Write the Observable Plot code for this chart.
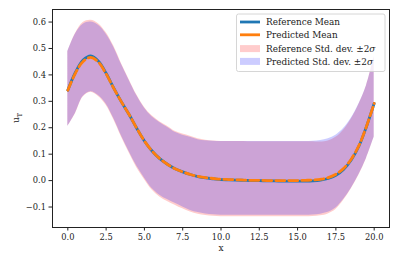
<!DOCTYPE html>
<html>
<head>
<meta charset="utf-8">
<script src="https://cdn.jsdelivr.net/npm/d3@7"></script>
<script src="https://cdn.jsdelivr.net/npm/@observablehq/plot@0.6"></script>
<style>
html,body{margin:0;padding:0;background:#fff;}
</style>
</head>
<body>
<div id="chart"></div>
<script>
const xs = [0,0.5,1,1.5,2,2.5,3,3.5,4,4.5,5,5.5,6,6.5,7,7.5,8,8.5,9,9.5,10,10.5,11,11.5,12,12.5,13,13.5,14,14.5,15,15.5,16,16.5,17,17.5,18,18.5,19,19.5,20];
const refMean = [0.342,0.41,0.456,0.472,0.452,0.406,0.35,0.298,0.25,0.198,0.15,0.112,0.083,0.062,0.045,0.033,0.023,0.015,0.010,0.007,0.004,0.003,0.002,0.001,0.0,0.0,-0.001,-0.001,-0.002,-0.002,-0.002,-0.002,-0.001,0.002,0.008,0.02,0.042,0.078,0.13,0.205,0.292];
const predMean = [0.342,0.407,0.451,0.466,0.448,0.404,0.349,0.298,0.25,0.198,0.15,0.112,0.083,0.062,0.045,0.033,0.023,0.016,0.011,0.008,0.005,0.004,0.003,0.002,0.001,0.001,0.0,0.0,0.0,0.0,0.0,0.001,0.002,0.005,0.011,0.024,0.046,0.081,0.132,0.206,0.292];
const predUpper = [0.488,0.555,0.592,0.600,0.588,0.555,0.505,0.44,0.38,0.322,0.275,0.242,0.22,0.202,0.183,0.172,0.164,0.155,0.151,0.149,0.148,0.148,0.148,0.148,0.148,0.148,0.148,0.148,0.148,0.148,0.148,0.148,0.149,0.152,0.158,0.172,0.197,0.236,0.29,0.36,0.47];
const refUpper = [0.488,0.557,0.598,0.607,0.594,0.560,0.509,0.443,0.383,0.325,0.278,0.245,0.223,0.206,0.187,0.176,0.168,0.158,0.153,0.150,0.148,0.148,0.148,0.148,0.147,0.147,0.147,0.147,0.147,0.147,0.147,0.147,0.147,0.146,0.150,0.164,0.191,0.232,0.288,0.36,0.47];
const predLower = [0.205,0.255,0.318,0.336,0.322,0.29,0.235,0.17,0.11,0.055,0.01,-0.03,-0.055,-0.072,-0.086,-0.1,-0.113,-0.121,-0.126,-0.129,-0.131,-0.131,-0.131,-0.131,-0.131,-0.131,-0.131,-0.131,-0.131,-0.131,-0.131,-0.131,-0.13,-0.127,-0.12,-0.104,-0.072,-0.03,0.022,0.085,0.165];
const refLower = [0.205,0.253,0.316,0.334,0.318,0.285,0.23,0.165,0.105,0.049,0.004,-0.036,-0.062,-0.079,-0.093,-0.107,-0.119,-0.127,-0.132,-0.135,-0.137,-0.137,-0.137,-0.137,-0.137,-0.137,-0.137,-0.137,-0.137,-0.137,-0.137,-0.137,-0.136,-0.133,-0.126,-0.109,-0.075,-0.032,0.02,0.084,0.165];
const xTicks = [0,2.5,5,7.5,10,12.5,15,17.5,20];
const yTicks = [-0.1,0,0.1,0.2,0.3,0.4,0.5,0.6];
const legendLabels = ["Reference Mean","Predicted Mean","Reference Std. dev. \u00b12","Predicted Std. dev. \u00b12"];

const rows = xs.map((x,i)=>({x, refMean:refMean[i], predMean:predMean[i], refLo:refLower[i], refHi:refUpper[i], predLo:predLower[i], predHi:predUpper[i]}));
const fmtY = d => (d<0?"\u2212":"") + Math.abs(d).toFixed(1);
const curve = "catmull-rom";

const plot = Plot.plot({
  width: 399,
  height: 266,
  marginLeft: 52,
  marginRight: 10,
  marginTop: 9,
  marginBottom: 39,
  style: {fontFamily: "'DejaVu Serif', serif", fontSize: "8.3px", color: "#222", background: "#fff"},
  x: {domain: [-1, 21]},
  y: {domain: [-0.1775, 0.6475]},
  marks: [
    Plot.areaY(rows, {x:"x", y1:"refLo", y2:"refHi", fill:"red", fillOpacity:0.2, curve}),
    Plot.areaY(rows, {x:"x", y1:"predLo", y2:"predHi", fill:"blue", fillOpacity:0.2, curve}),
    Plot.line(rows, {x:"x", y:"refMean", stroke:"#1f77b4", strokeWidth:2.8, curve}),
    Plot.line(rows, {x:"x", y:"predMean", stroke:"#ff7f0e", strokeWidth:2.8, strokeDasharray:"9,4", curve}),
    Plot.frame({stroke:"#222", strokeWidth:1}),
    Plot.axisX({ticks: xTicks, tickFormat: d=>d.toFixed(1), tickSize:3.5, tickPadding:3, label:null, stroke:"#222", fill:"#222"}),
    Plot.axisY({ticks: yTicks, tickFormat: fmtY, tickSize:3.5, tickPadding:3, label:null, stroke:"#222", fill:"#222"}),
    Plot.text(["x"], {frameAnchor:"bottom", dy:23, fontSize:9, fill:"#222"})
  ]
});
document.getElementById("chart").append(plot);

const svg = d3.select(plot);
// y label u_T
const yl = svg.append("text")
  .attr("transform","translate(19,118) rotate(-90)")
  .attr("text-anchor","middle")
  .attr("font-size",9)
  .attr("fill","#222");
yl.append("tspan").text("u");
yl.append("tspan").attr("font-size",6.5).attr("dy",2.5).text("T");

// legend
const lg = svg.append("g").attr("text-anchor","start");
lg.append("rect").attr("x",236.5).attr("y",14).attr("width",148.5).attr("height",57.5).attr("rx",2)
  .attr("fill","#fff").attr("fill-opacity",0.8).attr("stroke","#ccc").attr("stroke-width",0.8);
const rowsY = [22,34.8,48.6,61.4];
lg.append("line").attr("x1",240).attr("x2",260).attr("y1",rowsY[0]).attr("y2",rowsY[0]).attr("stroke","#1f77b4").attr("stroke-width",2.8);
lg.append("line").attr("x1",240).attr("x2",260).attr("y1",rowsY[1]).attr("y2",rowsY[1]).attr("stroke","#ff7f0e").attr("stroke-width",2.8);
lg.append("rect").attr("x",240).attr("y",rowsY[2]-3.5).attr("width",20).attr("height",7).attr("fill","red").attr("fill-opacity",0.2);
lg.append("rect").attr("x",240).attr("y",rowsY[3]-3.5).attr("width",20).attr("height",7).attr("fill","blue").attr("fill-opacity",0.2);
legendLabels.forEach((t,i)=>{
  const tx = lg.append("text").attr("x",266).attr("y",rowsY[i]).attr("dy","0.35em").attr("font-size",8.9).attr("fill","#222").attr("text-anchor","start");
  tx.append("tspan").text(t);
  if (i>=2) tx.append("tspan").attr("font-style","italic").text("\u03c3");
});
</script>
</body>
</html>
